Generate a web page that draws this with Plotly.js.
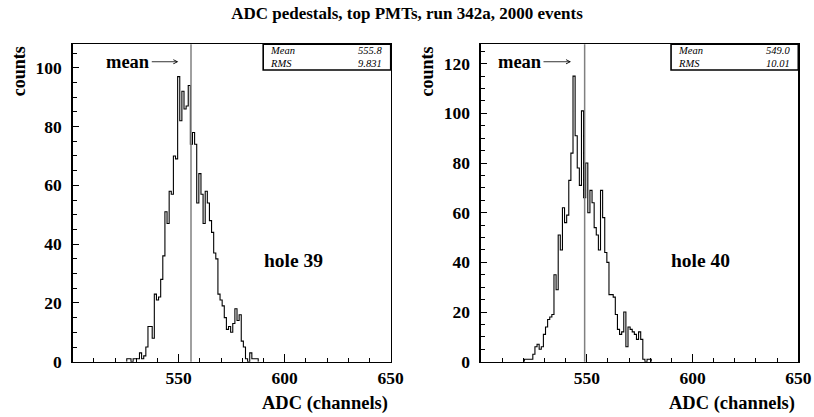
<!DOCTYPE html>
<html><head><meta charset="utf-8">
<script src="https://cdn.plot.ly/plotly-3.0.1.min.js"></script>
<style>html,body{margin:0;padding:0;background:#fff}</style>
</head><body><div id="chart" style="width:814px;height:417px"></div>
<script>
const chartTitle = 'ADC pedestals, top PMTs, run 342a, 2000 events';
const xAxisTitle = 'ADC (channels)';
const yAxisTitle = 'counts';
const xTickValues = [550, 600, 650];
const panelLabels = ['hole 39', 'hole 40'];
const statLabels = ['Mean', 'RMS'];
const hole39Stats = ['555.8', '9.831'];
const hole40Stats = ['549.0', '10.01'];
const meanValues = [555.8, 549.0];
const yMaxValues = [108, 127.8];

// counts per ADC channel (1-channel bins), first channel given separately
const hole39FirstChannel = 526;
const hole39Counts = [1,1,0,1,1,1,3,1,2,5,
  12,12,8,23,21,22,28,36,51,47,
  58,57,70,69,97,82,92,86,87,94,
  74,78,74,54,64,57,47,58,54,48,
  44,37,35,23,21,19,15,11,12,10,
  13,18,14,16,7,5,1,0,3,1,1,1];
const hole40FirstChannel = 521;
const hole40Counts = [1,1,1,1,3,6,7,5,6,11,
  14,17,18,19,35,29,51,45,62,56,
  59,73,84,115,91,78,71,101,66,80,
  60,69,64,54,51,45,69,58,44,40,
  27,27,26,19,13,11,12,20,6,14,
  13,12,11,9,12,9,1,0,1,1];

function stepXY(first, counts) {
  const x = [first - 0.5], y = [0];
  counts.forEach((c, i) => { x.push(first - 0.5 + i); y.push(c); });
  x.push(first - 0.5 + counts.length); y.push(0);
  return {x, y};
}

const FONT = 'Liberation Serif, Times New Roman, serif';
const s1 = stepXY(hole39FirstChannel, hole39Counts);
const s2 = stepXY(hole40FirstChannel, hole40Counts);

const traces = [
  {x: s1.x, y: s1.y, type: 'scatter', mode: 'lines', line: {shape: 'hv', color: '#000', width: 1.1}, xaxis: 'x', yaxis: 'y', hoverinfo: 'skip'},
  {x: s2.x, y: s2.y, type: 'scatter', mode: 'lines', line: {shape: 'hv', color: '#000', width: 1.1}, xaxis: 'x2', yaxis: 'y2', hoverinfo: 'skip'}
];

const tickFont = {family: FONT, size: 17.5, color: '#000', weight: 'bold'};
function xAx(domain, anchor) {
  return {domain, anchor, range: [500, 650], tickvals: xTickValues, ticks: 'inside', ticklen: 8, tickwidth: 1, tickcolor: '#000',
    minor: {ticks: 'inside', dtick: 10, tick0: 500, ticklen: 4, tickcolor: '#000', tickwidth: 1},
    showline: true, linecolor: '#000', linewidth: 1.5, mirror: true, showgrid: false, zeroline: false,
    tickfont: tickFont, ticklabelstandoff: 0};
}
function yAx(domain, anchor, ymax) {
  return {domain, anchor, range: [0, ymax], dtick: 20, tick0: 0, ticks: 'inside', ticklen: 6, tickwidth: 1, tickcolor: '#000',
    minor: {ticks: 'inside', dtick: 5, tick0: 0, ticklen: 4, tickcolor: '#000', tickwidth: 1},
    showline: true, linecolor: '#000', linewidth: 1.5, mirror: true, showgrid: false, zeroline: false,
    tickfont: tickFont, ticklabelstandoff: 6};
}

const yDom = [0.1326, 0.8938];
const layout = {
  width: 814, height: 417, margin: {l: 0, r: 0, t: 0, b: 0},
  paper_bgcolor: '#fff', plot_bgcolor: '#fff', showlegend: false,
  title: {text: chartTitle, x: 0.5, xanchor: 'center', y: 0.969, yanchor: 'middle', font: {family: FONT, size: 17, color: '#000', weight: 'bold'}},
  xaxis: xAx([0.0893, 0.48], 'y'),
  yaxis: yAx(yDom, 'x', yMaxValues[0]),
  xaxis2: xAx([0.5909, 0.9807], 'y2'),
  yaxis2: yAx(yDom, 'x2', yMaxValues[1]),
  shapes: [],
  annotations: []
};

const panels = [
  {xr: 'x', yr: 'y', stats: hole39Stats, label: panelLabels[0], mean: meanValues[0], px0: 0.0893, px1: 0.48, headX: 0.332, ax: -50},
  {xr: 'x2', yr: 'y2', stats: hole40Stats, label: panelLabels[1], mean: meanValues[1], px0: 0.5909, px1: 0.9807, headX: 0.2836, ax: -51}
];
panels.forEach(p => {
  const xd = p.xr + ' domain', yd = p.yr + ' domain';
  layout.shapes.push({type: 'line', xref: p.xr, yref: yd, x0: p.mean, x1: p.mean, y0: 0, y1: 1, line: {color: '#808080', width: 1.5}});
  layout.shapes.push({type: 'rect', xref: xd, yref: yd, x0: 0.599, x1: 1, y0: 0.919, y1: 1, line: {color: '#000', width: 1.6}, fillcolor: 'rgba(0,0,0,0)'});
  [0.979, 0.938].forEach((yy, i) => {
    layout.annotations.push({xref: xd, yref: yd, x: 0.615, y: yy, xanchor: 'left', yanchor: 'middle', showarrow: false,
      text: '<i>' + statLabels[i] + '</i>', font: {family: FONT, size: 10.5, color: '#000'}});
    layout.annotations.push({xref: xd, yref: yd, x: 0.979, y: yy, xanchor: 'right', yanchor: 'middle', showarrow: false,
      text: '<i>' + p.stats[i] + '</i>', font: {family: FONT, size: 10.5, color: '#000'}});
  });
  layout.annotations.push({xref: xd, yref: yd, x: 0.693, y: 0.32, xanchor: 'center', yanchor: 'middle', showarrow: false,
    text: p.label, font: {family: FONT, size: 19.5, color: '#000', weight: 'bold'}});
  layout.annotations.push({xref: xd, yref: yd, x: p.headX, y: 0.945, ax: p.ax, ay: 0, showarrow: true, arrowhead: 5, arrowsize: 1, arrowwidth: 0.8, arrowcolor: '#000', standoff: 0, startstandoff: 0,
    text: 'mean', font: {family: FONT, size: 18.5, color: '#000', weight: 'bold'}});
  layout.annotations.push({xref: 'paper', yref: 'paper', x: p.px1 - 0.001, y: 0.0312, xanchor: 'right', yanchor: 'middle', showarrow: false,
    text: xAxisTitle, font: {family: FONT, size: 18.5, color: '#000', weight: 'bold'}});
  layout.annotations.push({xref: 'paper', yref: 'paper', x: p.px0 - 0.066, y: 0.894, xanchor: 'center', yanchor: 'top', textangle: -90, showarrow: false,
    text: yAxisTitle, font: {family: FONT, size: 18, color: '#000', weight: 'bold'}});
});

Plotly.newPlot('chart', traces, layout, {displayModeBar: false, staticPlot: true});
</script>
</body></html>
